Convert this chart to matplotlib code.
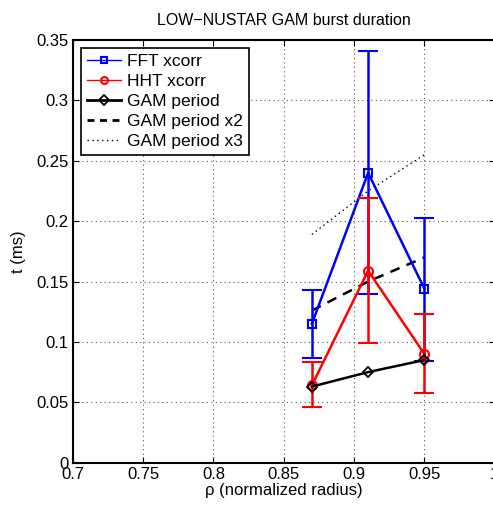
import matplotlib
matplotlib.use("Agg")
import matplotlib.pyplot as plt
from matplotlib.lines import Line2D
import numpy as np

rho = [0.87, 0.91, 0.95]

fft_t = [0.115, 0.240, 0.144]
fft_lo = [0.087, 0.140, 0.084]
fft_hi = [0.143, 0.341, 0.203]

hht_t = [0.064, 0.159, 0.090]
hht_lo = [0.046, 0.099, 0.058]
hht_hi = [0.083, 0.219, 0.123]

gam_period = [0.063, 0.075, 0.085]
gam_x2 = [0.126, 0.150, 0.170]
gam_x3 = [0.189, 0.225, 0.255]

plt.rcParams["font.family"] = ["Liberation Sans", "DejaVu Sans"]

fig = plt.figure(figsize=(4.93, 5.07), dpi=100)
ax = fig.add_axes([0.1475, 0.0874, 0.856, 0.8337])


def err(t, lo, hi):
    t = np.array(t)
    return [t - np.array(lo), np.array(hi) - t]


ax.errorbar(rho, fft_t, yerr=err(fft_t, fft_lo, fft_hi), color="#0000ff",
            marker="s", markersize=6, mfc="none", mew=1.5, lw=1.8,
            capsize=7.5, capthick=1.8, elinewidth=1.8, zorder=3)
ax.errorbar(rho, hht_t, yerr=err(hht_t, hht_lo, hht_hi), color="#ff0000",
            marker="o", markersize=6.5, mfc="none", mew=1.5, lw=1.8,
            capsize=7.5, capthick=1.8, elinewidth=1.8, zorder=4)
ax.plot(rho, gam_period, color="black", marker="D", markersize=5, mfc="none",
        mew=1.3, lw=1.8, zorder=5)
ax.plot(rho, gam_x2, color="black", ls=(0, (4, 3)), lw=1.8)
ax.plot(rho, gam_x3, color="black", ls=(0, (1, 2.5)), lw=1.0)

ax.set_xlim(0.7, 1.0)
ax.set_ylim(0, 0.35)
ax.set_xticks(np.arange(0.7, 1.001, 0.05))
ax.set_xticklabels(["0.7", "0.75", "0.8", "0.85", "0.9", "0.95", "1"])
ax.set_yticks(np.arange(0, 0.351, 0.05))
ax.set_yticklabels(["0", "0.05", "0.1", "0.15", "0.2", "0.25", "0.3", "0.35"])
ax.tick_params(direction="in", labelsize=12, length=4, top=True, right=True, pad=3)
ax.grid(True, ls=(0, (1, 3)), color="#555555", lw=0.8)
for s in ax.spines.values():
    s.set_linewidth(1.5)

ax.set_xlabel("\u03c1 (normalized radius)", fontsize=12, labelpad=1)
ax.set_ylabel("t (ms)", fontsize=12, labelpad=7)
ax.set_title("LOW\u2212NUSTAR GAM burst duration", fontsize=11.5, pad=11)

handles = [
    Line2D([], [], color="#0000ff", marker="s", markersize=5, mfc="none", mew=1.5, lw=1.0),
    Line2D([], [], color="#ff0000", marker="o", markersize=5, mfc="none", mew=1.5, lw=1.0),
    Line2D([], [], color="black", marker="D", markersize=5, mfc="none", mew=1.3, lw=2.0),
    Line2D([], [], color="black", ls=(0, (2.5, 2)), lw=2.0),
    Line2D([], [], color="black", ls=(0, (1, 2.5)), lw=1.0),
]
labels = ["FFT xcorr", "HHT xcorr", "GAM period", "GAM period x2", "GAM period x3"]
leg = ax.legend(handles, labels, loc="upper left", fontsize=12.5, fancybox=False,
                framealpha=1, edgecolor="black", handlelength=2.0, handletextpad=0.35,
                borderpad=0.35, labelspacing=0.28, borderaxespad=0.45)
leg.get_frame().set_linewidth(1.2)

fig.savefig("out.png", dpi=100, facecolor="white")
